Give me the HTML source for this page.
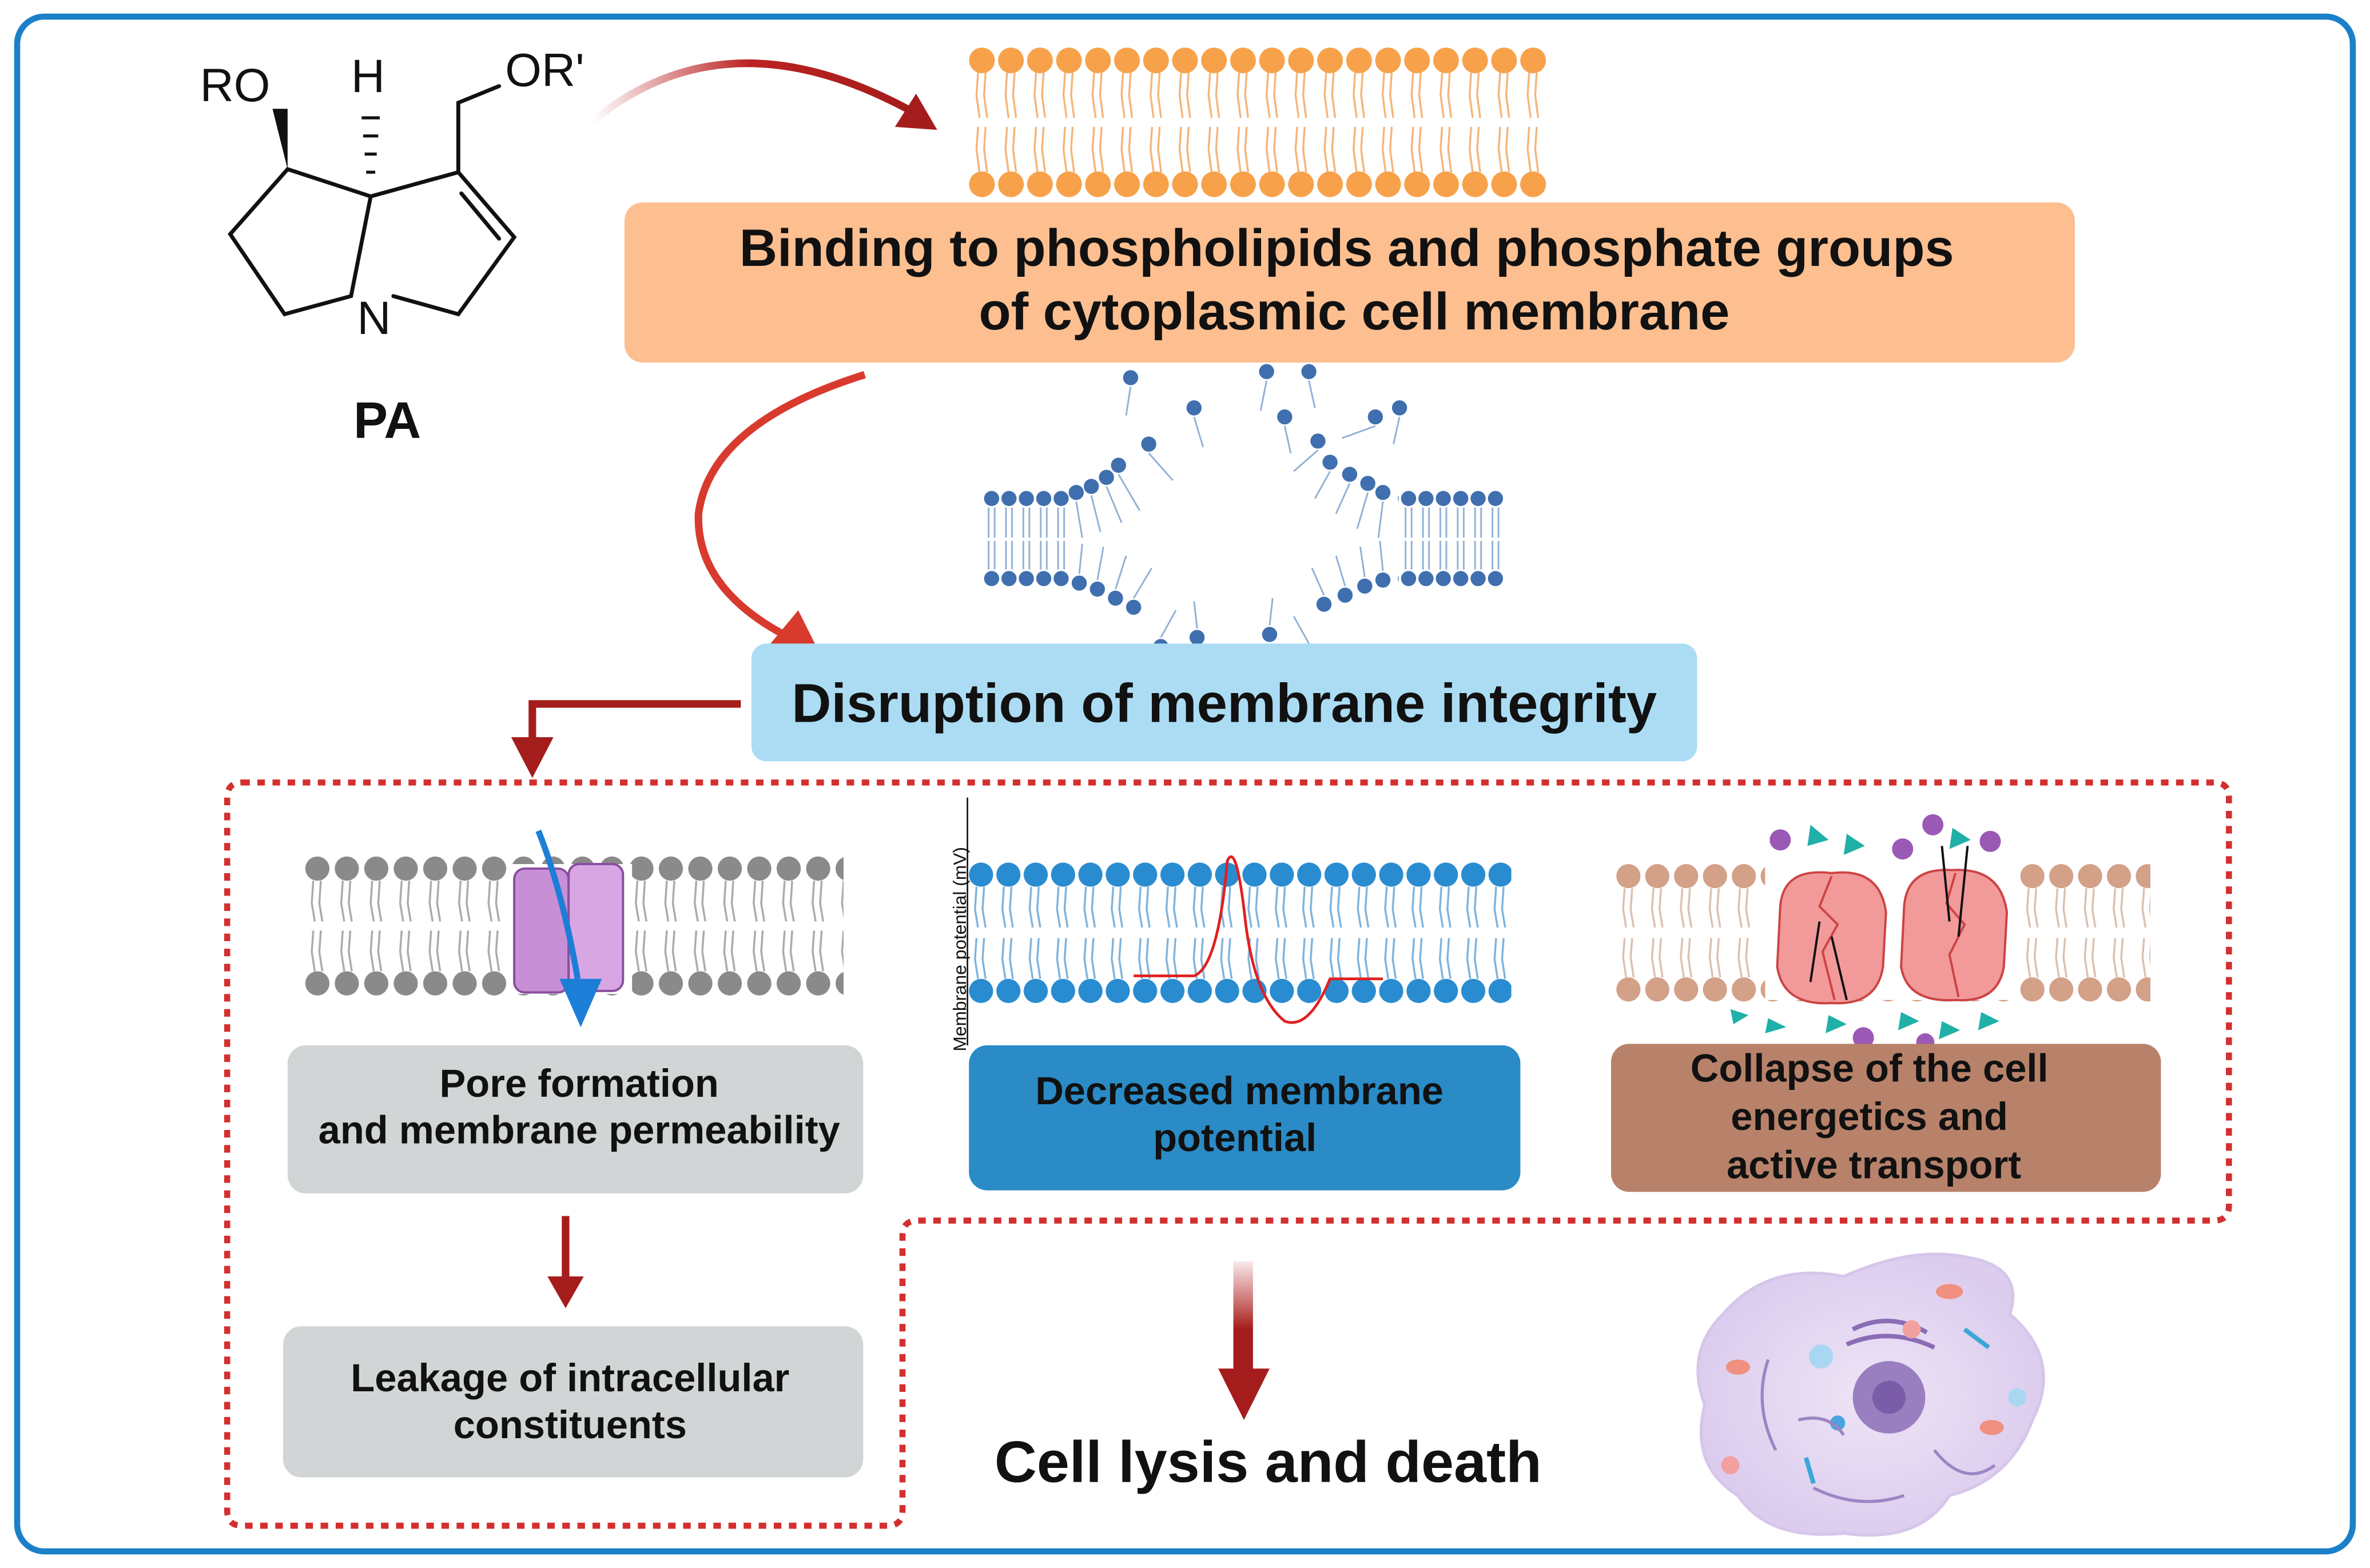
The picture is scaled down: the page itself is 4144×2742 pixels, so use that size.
<!DOCTYPE html>
<html><head><meta charset="utf-8">
<style>
html,body{margin:0;padding:0;background:#fff;}
svg{display:block;}
text{font-family:"Liberation Sans",Arial,sans-serif;}
</style></head>
<body>
<svg width="4144" height="2742" viewBox="0 0 1568 1038" xmlns="http://www.w3.org/2000/svg">
<defs>
  <pattern id="pOr" patternUnits="userSpaceOnUse" x="640" y="0" width="19.2" height="1038">
    <g stroke="#f5b57a" stroke-width="1.3" fill="none">
      <path d="M7,48 L6,63 L8,78 M12,48 L11,63 L13,78 M7,84 L6,99 L8,114 M12,84 L11,99 L13,114"/>
    </g>
    <circle cx="9.6" cy="40" r="8.5" fill="#f7a24a"/>
    <circle cx="9.6" cy="122" r="8.5" fill="#f7a24a"/>
  </pattern>
  <pattern id="pGr" patternUnits="userSpaceOnUse" x="200" y="0" width="19.5" height="1038">
    <g stroke="#aaa" stroke-width="1.3" fill="none">
      <path d="M7,583 L6,598 L8,610 M12,583 L11,598 L13,610 M7,616 L6,630 L8,643 M12,616 L11,630 L13,643"/>
    </g>
    <circle cx="9.7" cy="575" r="8" fill="#8a8a8a"/>
    <circle cx="9.7" cy="651" r="8" fill="#8a8a8a"/>
  </pattern>
  <pattern id="pBl" patternUnits="userSpaceOnUse" x="640" y="0" width="18.1" height="1038">
    <g stroke="#7fb3dc" stroke-width="1.3" fill="none">
      <path d="M6,587 L5,602 L7,614 M11,587 L10,602 L12,614 M6,621 L5,635 L7,648 M11,621 L10,635 L12,648"/>
    </g>
    <circle cx="9" cy="579" r="8" fill="#2a8cd0"/>
    <circle cx="9" cy="656" r="8" fill="#2a8cd0"/>
  </pattern>
  <pattern id="pBr" patternUnits="userSpaceOnUse" x="1068" y="0" width="19.1" height="1038">
    <g stroke="#dcbfb0" stroke-width="1.3" fill="none">
      <path d="M7,588 L6,602 L8,614 M12,588 L11,602 L13,614 M7,621 L6,634 L8,647 M12,621 L11,634 L13,647"/>
    </g>
    <circle cx="9.5" cy="580" r="8" fill="#d3a088"/>
    <circle cx="9.5" cy="655" r="8" fill="#d3a088"/>
  </pattern>
  <pattern id="pDs" patternUnits="userSpaceOnUse" x="650" y="0" width="11.5" height="1038">
    <g stroke="#8fb1d6" stroke-width="1.1" fill="none">
      <path d="M4,336 L4,356 M8,336 L8,356 M4,358 L4,377 M8,358 L8,377"/>
    </g>
    <circle cx="6" cy="330" r="5" fill="#3f6fae"/>
    <circle cx="6" cy="383" r="5" fill="#3f6fae"/>
  </pattern>
  <linearGradient id="gArr" x1="0" y1="0" x2="1" y2="0">
    <stop offset="0" stop-color="#b22" stop-opacity="0"/>
    <stop offset="0.5" stop-color="#b22"/>
    <stop offset="1" stop-color="#a51c1c"/>
  </linearGradient>
  <linearGradient id="gDown" x1="0" y1="0" x2="0" y2="1">
    <stop offset="0" stop-color="#b22" stop-opacity="0.1"/>
    <stop offset="0.6" stop-color="#a51c1c"/>
  </linearGradient>
  <radialGradient id="gCell" cx="0.5" cy="0.5" r="0.5">
    <stop offset="0" stop-color="#eee4f6"/>
    <stop offset="1" stop-color="#dccdee"/>
  </radialGradient>
</defs>

<rect x="0" y="0" width="1568" height="1038" fill="#fff"/>
<rect x="11" y="11" width="1546" height="1016" rx="18" fill="none" stroke="#1b80c8" stroke-width="4"/>

<g stroke="#111" stroke-width="2.6" fill="none" stroke-linecap="round">
  <path d="M190,112 L152,155 L188,208 L232,196 L245,130 Z"/>
  <path d="M245,130 L303,114 L340,157 L303,208 L260,196"/>
  <path d="M305,128 L330,158"/>
  <path d="M303,114 L303,68 L330,57"/>
</g>
<polygon points="190,112 180,72 190,72" fill="#111"/>
<g stroke="#111" stroke-width="2">
  <line x1="239" y1="78" x2="251" y2="78"/><line x1="240" y1="90" x2="250" y2="90"/>
  <line x1="241" y1="102" x2="249" y2="102"/><line x1="242" y1="114" x2="248" y2="114"/>
</g>
<text x="132" y="67" font-size="31" fill="#111">RO</text>
<text x="232" y="61" font-size="31" fill="#111">H</text>
<text x="334" y="57" font-size="31" fill="#111">OR'</text>
<text x="236" y="221" font-size="31" fill="#111">N</text>
<text x="256" y="290" font-size="34" font-weight="bold" fill="#111" text-anchor="middle">PA</text>

<path d="M392,80 Q480,8 600,72" fill="none" stroke="url(#gArr)" stroke-width="5"/>
<polygon points="620,86 592,84 606,62" fill="#a51c1c"/>

<rect x="640" y="28" width="384" height="104" fill="url(#pOr)"/>

<rect x="413" y="134" width="960" height="106" rx="12" fill="#fdbf90"/>
<text x="891" y="176" font-size="34.8" font-weight="bold" fill="#111" text-anchor="middle">Binding to phospholipids and phosphate groups</text>
<text x="896" y="218" font-size="34.8" font-weight="bold" fill="#111" text-anchor="middle">of cytoplasmic cell membrane</text>

<rect x="650" y="322" width="58" height="70" fill="url(#pDs)"/>
<rect x="925" y="322" width="70" height="70" fill="url(#pDs)"/>
<g fill="#3f6fae">
  <circle cx="712" cy="326" r="5"/><circle cx="722" cy="322" r="5"/><circle cx="732" cy="316" r="5"/><circle cx="740" cy="308" r="5"/><circle cx="760" cy="294" r="5"/>
  <circle cx="714" cy="386" r="5"/><circle cx="726" cy="390" r="5"/><circle cx="738" cy="396" r="5"/><circle cx="750" cy="402" r="5"/><circle cx="768" cy="428" r="5"/><circle cx="792" cy="422" r="5"/>
  <circle cx="915" cy="326" r="5"/><circle cx="905" cy="320" r="5"/><circle cx="893" cy="314" r="5"/><circle cx="880" cy="306" r="5"/><circle cx="872" cy="292" r="5"/>
  <circle cx="915" cy="384" r="5"/><circle cx="903" cy="388" r="5"/><circle cx="890" cy="394" r="5"/><circle cx="876" cy="400" r="5"/><circle cx="866" cy="432" r="5"/><circle cx="840" cy="420" r="5"/>
  <circle cx="748" cy="250" r="5"/><circle cx="790" cy="270" r="5"/><circle cx="838" cy="246" r="5"/><circle cx="866" cy="246" r="5"/><circle cx="850" cy="276" r="5"/><circle cx="910" cy="276" r="5"/><circle cx="926" cy="270" r="5"/>
</g>
<g stroke="#8fb1d6" stroke-width="1.1" fill="none">
  <path d="M712,332 L716,356 M722,328 L728,352 M732,322 L742,346 M740,314 L754,338 M760,300 L776,318 M748,256 L745,275 M790,276 L796,296 M838,252 L834,272 M866,252 L870,270 M850,282 L854,300 M910,282 L888,290 M926,276 L922,294 M872,298 L856,312 M880,312 L870,330 M893,320 L884,340 M905,326 L898,350 M915,332 L912,356"/>
  <path d="M714,380 L716,360 M726,384 L730,362 M738,390 L745,368 M750,396 L762,376 M768,422 L778,404 M792,416 L790,398 M915,378 L913,358 M903,382 L900,362 M890,388 L884,368 M876,394 L868,376 M866,426 L856,408 M840,414 L842,396"/>
</g>

<path d="M572,248 Q470,280 462,340 Q460,390 522,422" fill="none" stroke="#d83a2e" stroke-width="5"/>
<polygon points="545,438 508,428 528,404" fill="#d83a2e"/>

<rect x="497" y="426" width="626" height="78" rx="10" fill="#abdcf4"/>
<text x="810" y="478" font-size="36.3" font-weight="bold" fill="#111" text-anchor="middle">Disruption of membrane integrity</text>

<path d="M490,466 H352 V492" fill="none" stroke="#a51c1c" stroke-width="5"/>
<polygon points="338,488 366,488 352,515" fill="#a51c1c"/>

<path d="M160,518 H1465 Q1475,518 1475,528 V798 Q1475,808 1465,808 H607 Q597,808 597,818 V1000 Q597,1010 587,1010 H160 Q150,1010 150,1000 V528 Q150,518 160,518 Z" fill="none" stroke="#d32f2f" stroke-width="4" stroke-dasharray="5 5"/>

<rect x="200" y="566" width="358" height="94" fill="url(#pGr)"/>
<rect x="338" y="572" width="80" height="86" fill="#fff"/>
<rect x="340" y="575" width="36" height="82" rx="7" fill="#c78fd6" stroke="#8a4e9e" stroke-width="1.5"/>
<rect x="376" y="572" width="36" height="84" rx="7" fill="#d7a6e3" stroke="#8a4e9e" stroke-width="1.5"/>
<path d="M356,550 Q372,590 382,648" fill="none" stroke="#1c7ed6" stroke-width="4"/>
<polygon points="370,648 398,648 384,680" fill="#1c7ed6"/>

<rect x="190" y="692" width="381" height="98" rx="12" fill="#d1d5d6"/>
<text x="383" y="726" font-size="26" font-weight="bold" fill="#111" text-anchor="middle">Pore formation</text>
<text x="383" y="757" font-size="26" font-weight="bold" fill="#111" text-anchor="middle">and membrane permeability</text>

<line x1="374" y1="805" x2="374" y2="848" stroke="#a51c1c" stroke-width="5"/>
<polygon points="362,845 386,845 374,866" fill="#a51c1c"/>

<rect x="187" y="878" width="384" height="100" rx="12" fill="#d1d5d6"/>
<text x="377" y="921" font-size="26" font-weight="bold" fill="#111" text-anchor="middle">Leakage of intracellular</text>
<text x="377" y="952" font-size="26" font-weight="bold" fill="#111" text-anchor="middle">constituents</text>

<rect x="640" y="569" width="360" height="96" fill="url(#pBl)"/>
<path d="M750,646 H790 Q806,640 812,570 Q818,556 824,610 Q830,660 850,676 Q866,682 880,648 H915" fill="none" stroke="#e02020" stroke-width="1.8"/>
<text transform="translate(639,696) rotate(-90)" font-size="12" fill="#111">Membrane potential (mV)</text>
<line x1="640" y1="528" x2="640" y2="692" stroke="#111" stroke-width="1"/>

<rect x="641" y="692" width="365" height="96" rx="12" fill="#2a8bc6"/>
<text x="820" y="731" font-size="26" font-weight="bold" fill="#111" text-anchor="middle">Decreased membrane</text>
<text x="817" y="762" font-size="26" font-weight="bold" fill="#111" text-anchor="middle">potential</text>

<rect x="1068" y="570" width="355" height="96" fill="url(#pBr)"/>
<rect x="1168" y="572" width="168" height="90" fill="#fff"/>
<path d="M1178,600 Q1180,574 1212,578 Q1244,574 1248,604 L1246,640 Q1242,666 1212,664 Q1180,666 1176,640 Z" fill="#f29a9a" stroke="#c44" stroke-width="1.5"/>
<path d="M1260,600 Q1262,574 1292,576 Q1324,574 1328,604 L1326,640 Q1322,664 1294,662 Q1262,664 1258,640 Z" fill="#f29a9a" stroke="#c44" stroke-width="1.5"/>
<path d="M1212,580 L1204,600 L1216,612 L1206,630 L1214,662" fill="none" stroke="#c44" stroke-width="1.5"/>
<path d="M1294,578 L1288,598 L1300,612 L1290,632 L1296,660" fill="none" stroke="#c44" stroke-width="1.5"/>
<g stroke="#111" stroke-width="1.5">
  <line x1="1198" y1="650" x2="1204" y2="610"/><line x1="1212" y1="620" x2="1222" y2="662"/>
  <line x1="1285" y1="560" x2="1290" y2="610"/><line x1="1296" y1="620" x2="1302" y2="560"/>
</g>
<g fill="#9b59b6">
  <circle cx="1178" cy="556" r="7"/><circle cx="1279" cy="546" r="7"/><circle cx="1317" cy="557" r="7"/><circle cx="1259" cy="562" r="7"/>
  <circle cx="1233" cy="687" r="7"/><circle cx="1274" cy="690" r="6"/>
</g>
<g fill="#1fb0a8">
  <polygon points="1198,546 1210,556 1196,560"/><polygon points="1222,552 1234,560 1220,566"/><polygon points="1292,548 1304,556 1290,562"/>
  <polygon points="1145,668 1157,672 1147,678"/><polygon points="1170,674 1182,680 1168,684"/><polygon points="1210,672 1222,678 1208,684"/>
  <polygon points="1258,670 1270,676 1256,682"/><polygon points="1285,676 1297,682 1283,688"/><polygon points="1311,670 1323,676 1309,682"/>
</g>

<rect x="1066" y="691" width="364" height="98" rx="12" fill="#b8826a"/>
<text x="1237" y="716" font-size="26" font-weight="bold" fill="#111" text-anchor="middle">Collapse of the cell</text>
<text x="1237" y="748" font-size="26" font-weight="bold" fill="#111" text-anchor="middle">energetics and</text>
<text x="1240" y="780" font-size="26" font-weight="bold" fill="#111" text-anchor="middle">active transport</text>

<rect x="816" y="835" width="13" height="75" fill="url(#gDown)"/>
<polygon points="806,906 840,906 823,940" fill="#a51c1c"/>
<text x="839" y="981" font-size="38.8" font-weight="bold" fill="#111" text-anchor="middle">Cell lysis and death</text>

<path d="M1140,870 Q1170,835 1220,845 Q1265,825 1300,832 Q1340,838 1330,870 Q1365,900 1345,940 Q1330,980 1290,990 Q1270,1022 1220,1015 Q1170,1020 1150,990 Q1118,970 1128,930 Q1115,895 1140,870 Z" fill="url(#gCell)" stroke="#d6c6ea" stroke-width="2"/>
<circle cx="1250" cy="925" r="24" fill="#9a7fc0"/>
<circle cx="1250" cy="925" r="11" fill="#7b5ca8"/>
<path d="M1226,880 Q1250,868 1275,882 M1222,890 Q1250,878 1280,892" fill="none" stroke="#8a6cb6" stroke-width="3"/>
<circle cx="1205" cy="898" r="8" fill="#a9d7f2"/>
<circle cx="1216" cy="942" r="5" fill="#4aa3df"/>
<circle cx="1265" cy="880" r="6" fill="#f2a0a0"/>
<circle cx="1145" cy="970" r="6" fill="#f2a0a0"/>
<circle cx="1335" cy="925" r="6" fill="#a9d7f2"/>
<ellipse cx="1290" cy="855" rx="9" ry="5" fill="#f09080"/>
<ellipse cx="1318" cy="945" rx="8" ry="5" fill="#f09080"/>
<ellipse cx="1150" cy="905" rx="8" ry="5" fill="#f09080"/>
<path d="M1170,900 Q1160,930 1175,960 M1190,940 Q1210,935 1220,950 M1280,960 Q1300,985 1320,970 M1200,985 Q1230,1000 1260,990" fill="none" stroke="#9b85c4" stroke-width="2"/>
<line x1="1300" y1="880" x2="1316" y2="892" stroke="#3aa7d8" stroke-width="3"/>
<line x1="1195" y1="965" x2="1200" y2="982" stroke="#3aa7d8" stroke-width="3"/>
</svg>
</body></html>
